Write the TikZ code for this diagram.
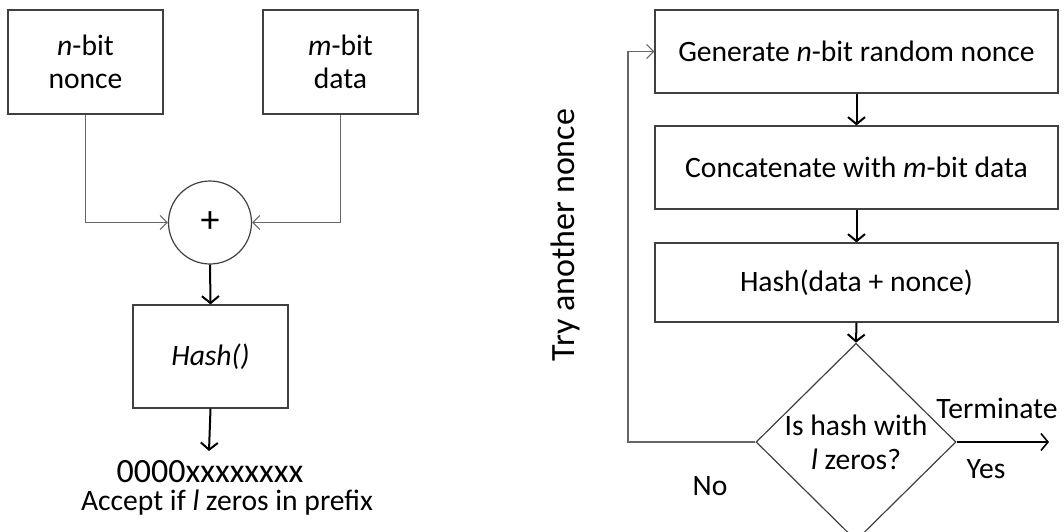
\documentclass[tikz,border=0pt]{standalone}
\usepackage{fontspec}
\setmainfont{Carlito}
\usetikzlibrary{arrows.meta,shapes.geometric}
\begin{document}
\begin{tikzpicture}[x=1pt,y=-1pt,
  box/.style={draw=black!75,line width=1.2pt,inner sep=0pt,font=\fontsize{29.6}{35}\selectfont},
  thinarrow/.style={draw=black!60,line width=1.2pt,-{Straight Barb[length=7pt,width=14pt,line width=1.1pt]}},
  thickarrow/.style={draw=black,line width=2pt,-{Straight Barb[length=7pt,width=17pt,line width=2pt]}},
  lbl/.style={font=\fontsize{29.6}{35}\selectfont,inner sep=0pt}]
\useasboundingbox (0,0) rectangle (1064,531);
% left part
\node[box,minimum width=155pt,minimum height=104pt,align=center] (nonce) at (85.5,62) {\textit{n}-bit\\[-2pt]nonce};
\node[box,minimum width=155pt,minimum height=104pt,align=center] (data) at (340.5,62) {\textit{m}-bit\\[-2pt]data};
\node[draw=black!75,line width=1.2pt,circle,minimum size=83pt,inner sep=0pt,font=\fontsize{38}{40}\selectfont] (plus) at (210,222.5) {+};
\node[box,minimum width=155pt,minimum height=103pt] (hash) at (210.5,356.5) {\textit{Hash()}};
\node[lbl,font=\fontsize{34}{40}\selectfont] (out) at (210,472) {0000xxxxxxxx};
\node[lbl] (accept) at (227,503) {Accept if \textit{l} zeros in prefix};
\coordinate (outtop) at (209,451);
\draw[thinarrow] (nonce.south) |- (plus.west);
\draw[thinarrow] (data.south) |- (plus.east);
\draw[thickarrow] (plus.south) -- (hash.north);
\draw[thickarrow] (hash.south) -- (outtop);
% right part
\node[box,minimum width=403pt,minimum height=83pt] (gen) at (856.5,51.5) {Generate \textit{n}-bit random nonce};
\node[box,minimum width=403pt,minimum height=83pt] (cat) at (856.5,167.5) {Concatenate with \textit{m}-bit data};
\node[box,minimum width=403pt,minimum height=79pt] (h2) at (856.5,282.5) {Hash(data + nonce)};
\node[draw=black!75,line width=1.2pt,diamond,minimum width=200pt,minimum height=174pt,inner sep=0pt,align=center,font=\fontsize{29.6}{35}\selectfont] (dec) at (856,442) {Is hash with\\[-1pt]\textit{l} zeros?};
\coordinate (term) at (1049,442);
\coordinate (loop) at (628,442);
\node[lbl] (terminate) at (997,408) {Terminate};
\node[lbl] (yes) at (986,469) {Yes};
\node[lbl] (no) at (710,486) {No};
\node[lbl,font=\fontsize{34}{40}\selectfont,rotate=90] (try) at (565,235) {Try another nonce};
\draw[thickarrow] (gen.south) -- (cat.north);
\draw[thickarrow] (cat.south) -- (h2.north);
\draw[thickarrow] (h2.south) -- (dec.north);
\draw[draw=black,line width=1.6pt,-{Straight Barb[length=7pt,width=17pt,line width=1.6pt]}] (dec.east) -- (term);
\draw[thinarrow] (dec.west) -- (loop) |- (gen.west);
\end{tikzpicture}
\end{document}
